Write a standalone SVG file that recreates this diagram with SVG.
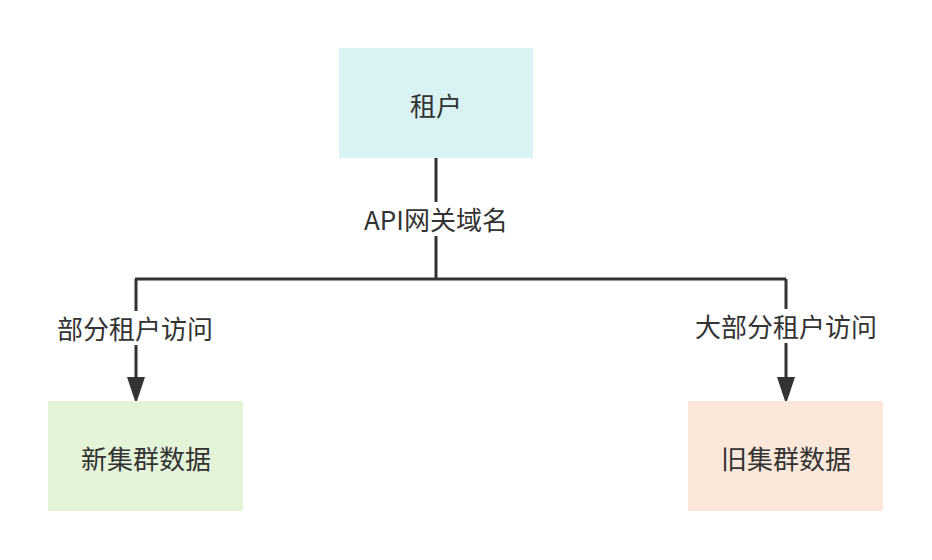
<svg xmlns="http://www.w3.org/2000/svg" width="932" height="560" viewBox="0 0 932 560">
<style>
text{font-family:"Noto Sans CJK SC","Noto Sans",sans-serif;font-size:26px;fill:#333;text-anchor:middle;dominant-baseline:central}
.ln{fill:none;stroke:#333;stroke-width:3}
</style>
<defs>
<marker id="ah" markerWidth="7" markerHeight="10" refX="7" refY="5" orient="auto" markerUnits="userSpaceOnUse" viewBox="0 0 7 10"/>
</defs>
<rect width="932" height="560" fill="#fff"/>
<g id="connectors">
<path class="ln" d="M436 158V279M135 279H786M436 279V279"/>
<path class="ln" d="M136 279V380"/>
<path class="ln" d="M786 279V380"/>
<polygon points="127,377 145,377 136,404" fill="#333"/>
<polygon points="777,377 795,377 786,404" fill="#333"/>
<rect x="360" y="202" width="152" height="34" fill="#fff"/>
<text x="436" y="218">API网关域名</text>
<rect x="53" y="311" width="164" height="34" fill="#fff"/>
<text x="135" y="327">部分租户访问</text>
<rect x="692" y="309" width="188" height="34" fill="#fff"/>
<text x="786" y="325">大部分租户访问</text>
</g>
<g id="tenant">
<rect x="339" y="48" width="194" height="110" fill="#d9f3f5"/>
<text x="436" y="104">租户</text>
</g>
<g id="new-cluster">
<rect x="48" y="401" width="195" height="110" fill="#e4f4d9"/>
<text x="146" y="457">新集群数据</text>
</g>
<g id="old-cluster">
<rect x="688" y="401" width="195" height="110" fill="#fbe8da"/>
<text x="786" y="457">旧集群数据</text>
</g>
</svg>
